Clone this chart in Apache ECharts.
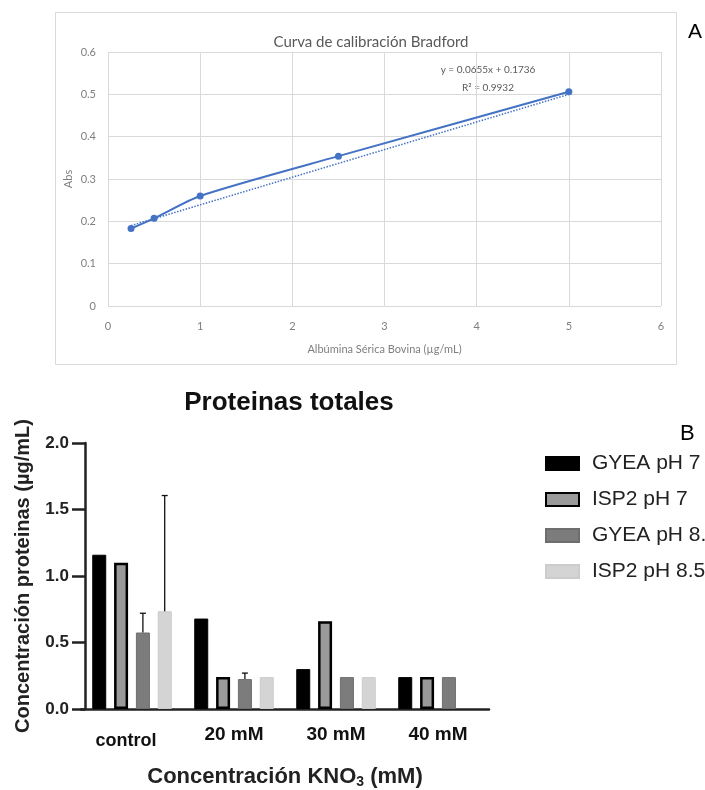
<!DOCTYPE html>
<html>
<head>
<meta charset="utf-8">
<script src="https://cdn.jsdelivr.net/npm/echarts@6/dist/echarts.min.js"></script>
<style>
  html, body { margin: 0; padding: 0; background: #fff; }
  #main { width: 705px; height: 790px; }
</style>
</head>
<body>
<div id="main"></div>
<script>
// A: curva de calibración
const concX = [0.25, 0.5, 1, 2.5, 5];
const absY = [0.183, 0.207, 0.260, 0.354, 0.506];
const trendX = [0.25, 5];
const trendY = [0.19, 0.50];

// B: proteinas totales
const categories = ["control", "20 mM", "30 mM", "40 mM"];
const gyea7 = [1.16, 0.68, 0.30, 0.24];
const isp27 = [1.10, 0.24, 0.66, 0.24];
const gyea85 = [0.575, 0.225, 0.24, 0.24];
const isp285 = [0.735, 0.24, 0.24, null];
// [categoria, serie, base, tope]
const errBars = [
    [0, 2, 0.575, 0.72],
    [0, 3, 0.735, 1.605],
    [1, 2, 0.225, 0.27],
];

const BAR_W = 14;
const BAR_STEP = 21.8; // ancho + separación

var myChart = echarts.init(document.getElementById("main"));

const pointsA = concX.map((x, i) => [x, absY[i]]);
const trendA = trendX.map((x, i) => [x, trendY[i]]);

const greyA = "#7f7f7f";
const blueA = "#4472C4";
const fontB = "Liberation Sans, Arial, sans-serif";

// la etiqueta "control" va un poco más baja y a la izquierda
const catData = categories.map((c, i) =>
    i === 0 ? { value: c, textStyle: { padding: [7, 12, 0, 0], fontSize: 18 } } : c
);

var option = {
    animation: false,
    title: [
        {
            text: "Curva de calibración Bradford",
            left: 366,
            top: 30,
            textAlign: "center",
            textStyle: { fontFamily: "Lato", fontSize: 15, fontWeight: "normal", color: "#595959" },
        },
        {
            text: "Proteinas totales",
            left: 284,
            top: 385,
            textAlign: "center",
            textStyle: { fontFamily: fontB, fontSize: 26, fontWeight: "bold", color: "#111" },
        },
    ],
    legend: {
        data: ["GYEA pH 7", "ISP2 pH 7", "GYEA pH 8.5", "ISP2 pH 8.5"],
        orient: "vertical",
        left: 545,
        top: 453,
        padding: 0,
        itemWidth: 33,
        itemHeight: 13,
        itemGap: 15,
        icon: "rect",
        textStyle: { fontFamily: fontB, fontSize: 21, lineHeight: 20, color: "#222", padding: [0, 0, 0, 8] },
    },
    graphic: [
        {
            type: "rect",
            shape: { x: 55.5, y: 12.5, width: 621, height: 352 },
            style: { fill: "none", stroke: "#d9d9d9", lineWidth: 1 },
        },
        {
            type: "text",
            x: 488, y: 70,
            style: { text: "y = 0.0655x + 0.1736", fontFamily: "Lato", fontSize: 10, fill: "#595959", align: "center", verticalAlign: "middle" },
        },
        {
            type: "text",
            x: 488, y: 88,
            style: { text: "R² = 0.9932", fontFamily: "Lato", fontSize: 10, fill: "#595959", align: "center", verticalAlign: "middle" },
        },
        {
            type: "text",
            x: 688, y: 32,
            style: { text: "A", fontFamily: fontB, fontSize: 21, fill: "#000", verticalAlign: "middle" },
        },
        {
            type: "text",
            x: 680, y: 434,
            style: { text: "B", fontFamily: fontB, fontSize: 22, fill: "#000", verticalAlign: "middle" },
        },
    ],
    grid: [
        { left: 108, top: 52, width: 553, height: 254 },
        { left: 81, top: 443, width: 408, height: 267 },
    ],
    xAxis: [
        {
            gridIndex: 0,
            type: "value",
            min: 0, max: 6, interval: 1,
            name: "Albúmina Sérica Bovina (µg/mL)",
            nameLocation: "middle",
            nameGap: 38,
            nameTextStyle: { fontFamily: "Lato", fontSize: 11, color: greyA },
            axisLine: { show: false },
            axisTick: { show: false },
            axisLabel: { margin: 15, fontFamily: "Lato", fontSize: 11, color: greyA },
            splitLine: { show: true, lineStyle: { color: "#d9d9d9", width: 1 } },
        },
        {
            gridIndex: 1,
            type: "category",
            data: catData,
            boundaryGap: true,
            name: "{a|Concentración KNO}{s|3}{a| (mM)}",
            nameLocation: "middle",
            nameGap: 56,
            nameTextStyle: {
                rich: {
                    a: { fontFamily: fontB, fontSize: 22, fontWeight: "bold", color: "#222" },
                    s: { fontFamily: fontB, fontSize: 14, fontWeight: "bold", color: "#222", padding: [10, 0, 0, 0] },
                },
            },
            axisLine: { lineStyle: { color: "#222", width: 2.5 } },
            axisTick: { alignWithLabel: true, length: 9, lineStyle: { color: "#222", width: 2.5 } },
            axisLabel: { margin: 16, fontFamily: fontB, fontSize: 19, fontWeight: "bold", color: "#111" },
            splitLine: { show: false },
        },
    ],
    yAxis: [
        {
            gridIndex: 0,
            type: "value",
            min: 0, max: 0.6, interval: 0.1,
            name: "Abs",
            nameLocation: "middle",
            nameGap: 34,
            nameMoveOverlap: false,
            nameTextStyle: { fontFamily: "Lato", fontSize: 11, color: greyA },
            axisLine: { show: false },
            axisTick: { show: false },
            axisLabel: { margin: 12, fontFamily: "Lato", fontSize: 11, color: greyA },
            splitLine: { show: true, lineStyle: { color: "#d9d9d9", width: 1 } },
        },
        {
            gridIndex: 1,
            type: "value",
            offset: -4,
            min: 0, max: 2, interval: 0.5,
            name: "Concentración proteinas (µg/mL)",
            nameLocation: "middle",
            nameGap: 52,
            nameTextStyle: { fontFamily: fontB, fontSize: 20, fontWeight: "bold", color: "#222" },
            axisLine: { show: true, lineStyle: { color: "#222", width: 2.5 } },
            axisTick: { show: true, length: 13, lineStyle: { color: "#222", width: 2.5 } },
            axisLabel: {
                margin: 16, fontFamily: fontB, fontSize: 17, fontWeight: "bold", color: "#222",
                formatter: (v) => v.toFixed(1),
            },
            splitLine: { show: false },
        },
    ],
    series: [
        {
            name: "Abs",
            type: "line",
            xAxisIndex: 0, yAxisIndex: 0,
            data: pointsA,
            smooth: 0.25,
            symbol: "circle",
            symbolSize: 7,
            itemStyle: { color: blueA },
            lineStyle: { color: blueA, width: 2 },
            z: 3,
        },
        {
            name: "Lineal",
            type: "line",
            xAxisIndex: 0, yAxisIndex: 0,
            data: trendA,
            symbol: "none",
            lineStyle: { color: blueA, width: 1.5, type: [1.5, 1.5] },
            z: 2,
        },
        {
            name: "GYEA pH 7",
            type: "bar",
            xAxisIndex: 1, yAxisIndex: 1,
            data: gyea7,
            barWidth: BAR_W,
            barGap: "56%",
            itemStyle: { color: "#000", borderColor: "#000", borderWidth: 1 },
        },
        {
            name: "ISP2 pH 7",
            type: "bar",
            xAxisIndex: 1, yAxisIndex: 1,
            data: isp27,
            barWidth: BAR_W,
            barGap: "56%",
            itemStyle: { color: "#9a9a9a", borderColor: "#000", borderWidth: 2.5 },
        },
        {
            name: "GYEA pH 8.5",
            type: "bar",
            xAxisIndex: 1, yAxisIndex: 1,
            data: gyea85,
            barWidth: BAR_W,
            barGap: "56%",
            itemStyle: { color: "#7c7c7c", borderColor: "#6e6e6e", borderWidth: 1 },
        },
        {
            name: "ISP2 pH 8.5",
            type: "bar",
            xAxisIndex: 1, yAxisIndex: 1,
            data: isp285,
            barWidth: BAR_W,
            barGap: "56%",
            itemStyle: { color: "#d4d4d4", borderColor: "#cccccc", borderWidth: 1 },
        },
        {
            name: "error",
            type: "custom",
            xAxisIndex: 1, yAxisIndex: 1,
            data: errBars,
            encode: { x: 0, y: [2, 3] },
            z: 5,
            renderItem: function (params, api) {
                var cat = api.value(0);
                var idx = api.value(1);
                var base = api.coord([cat, api.value(2)]);
                var top = api.coord([cat, api.value(3)]);
                var x = base[0] + (idx - 1.5) * BAR_STEP;
                var st = { stroke: "#111", lineWidth: 1.3 };
                return {
                    type: "group",
                    children: [
                        { type: "line", shape: { x1: x, y1: base[1], x2: x, y2: top[1] }, style: st },
                        { type: "line", shape: { x1: x - 3, y1: top[1], x2: x + 3, y2: top[1] }, style: st },
                    ],
                };
            },
        },
    ],
};
myChart.setOption(option);
</script>
</body>
</html>
